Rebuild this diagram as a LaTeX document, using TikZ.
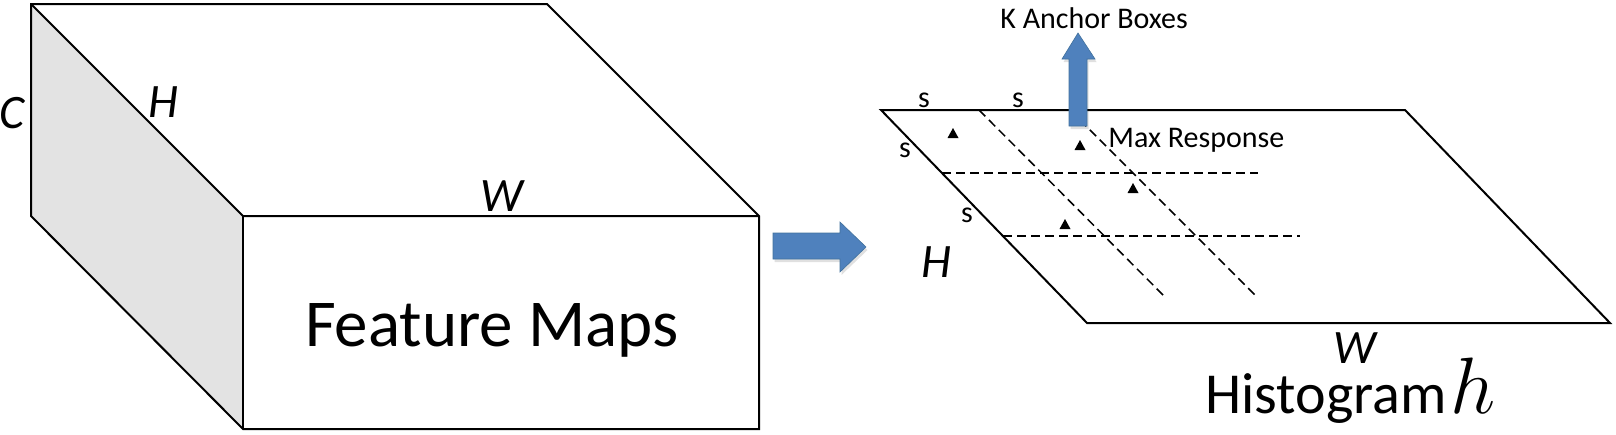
\RequirePackage{fix-cm}
\documentclass[tikz,border=0pt]{standalone}
\usepackage{fontspec}
\setmainfont{Carlito}
\definecolor{sidegray}{HTML}{E3E3E3}
\definecolor{arrowblue}{HTML}{4F81BD}
\definecolor{arrowedge}{HTML}{41719C}
\begin{document}
\begin{tikzpicture}[x=0.5pt,y=-0.5pt,
  edge/.style={line width=1pt,line join=miter},
  gridline/.style={line width=0.75pt,dash pattern=on 4.5pt off 2.5pt},
  bigarrow/.style={fill=arrowblue,draw=arrowedge,line width=0.3pt},
  arrowshadow/.style={fill=black,opacity=0.12},
  smalllbl/.style={inner sep=0pt,font=\fontsize{15}{18}\selectfont},
  dimlbl/.style={inner sep=0pt,font=\fontsize{24}{28}\selectfont\itshape},
  biglbl/.style={inner sep=0pt,font=\fontsize{33.5}{38}\selectfont}]
\useasboundingbox (0,0) rectangle (1616,434);
% ---- feature map box ----
\coordinate (btl) at (31,4);
\coordinate (btr) at (547,4);
\coordinate (bbl) at (31,216);
\coordinate (ftl) at (243,216);
\coordinate (ftr) at (759,216);
\coordinate (fbl) at (243,429);
\coordinate (fbr) at (759,429);
\fill[sidegray] (btl) -- (ftl) -- (fbl) -- (bbl) -- cycle;
\draw[edge] (bbl) -- (btl) -- (btr) -- (ftr) -- (fbr) -- (fbl) -- cycle;
\draw[edge] (btl) -- (ftl) -- (ftr);
\draw[edge] (ftl) -- (fbl);
\node[dimlbl] (lblC) at (12,113) {C};
\node[dimlbl] (lblH1) at (163,102) {H};
\node[dimlbl] (lblW1) at (502,196) {W};
\node[biglbl,anchor=base] (fm) at (492,346) {Feature Maps};
% ---- right arrow ----
\fill[arrowshadow,shift={(1.5,3)}] (773,233) -- (840,233) -- (840,222) -- (866,247) -- (840,272) -- (840,259) -- (773,259) -- cycle;
\draw[bigarrow] (773,233) -- (840,233) -- (840,222) -- (866,247) -- (840,272) -- (840,259) -- (773,259) -- cycle;
% ---- histogram plane ----
\coordinate (ptl) at (881,110);
\coordinate (ptr) at (1405,110);
\coordinate (pbr) at (1610,323);
\coordinate (pbl) at (1087,323);
\draw[edge] (ptl) -- (ptr) -- (pbr) -- (pbl) -- cycle;
\draw[gridline] (979,110) -- (1163,295);
\draw[gridline] (1070,110) -- (1257,297);
\draw[gridline] (942,173) -- (1258,173);
\draw[gridline] (1003,236) -- (1300,236);
\foreach \px/\py in {953/133,1080/145,1133/188,1065/224}
  \fill[shift={(\px,\py)}] (-5.5,5) -- (5.5,5) -- (0,-5) -- cycle;
\node[smalllbl] (s1) at (924,100) {s};
\node[smalllbl] (s2) at (1018,100) {s};
\node[smalllbl] (s3) at (905,150) {s};
\node[smalllbl] (s4) at (967,215) {s};
% ---- up arrow ----
\fill[arrowshadow,shift={(1.5,3)}] (1069,126) -- (1069,59) -- (1062,59) -- (1078,33) -- (1095,59) -- (1087,59) -- (1087,126) -- cycle;
\draw[bigarrow] (1069,126) -- (1069,59) -- (1062,59) -- (1078,33) -- (1095,59) -- (1087,59) -- (1087,126) -- cycle;
\node[smalllbl,anchor=base west] (kab) at (1000,28) {K Anchor Boxes};
\node[smalllbl,anchor=base west] (maxr) at (1108,147) {Max Response};
\node[dimlbl] (lblH2) at (936,262) {H};
\node[dimlbl] (lblW2) at (1355,348) {W};
\node[inner sep=0pt,anchor=base west,font=\fontsize{29}{33}\selectfont] (hist) at (1205,413) {Histogram};
\node[inner sep=0pt,anchor=base west,font=\fontsize{40}{44}\selectfont] (hsym) at (1450,413) {$h$};
\end{tikzpicture}
\end{document}
